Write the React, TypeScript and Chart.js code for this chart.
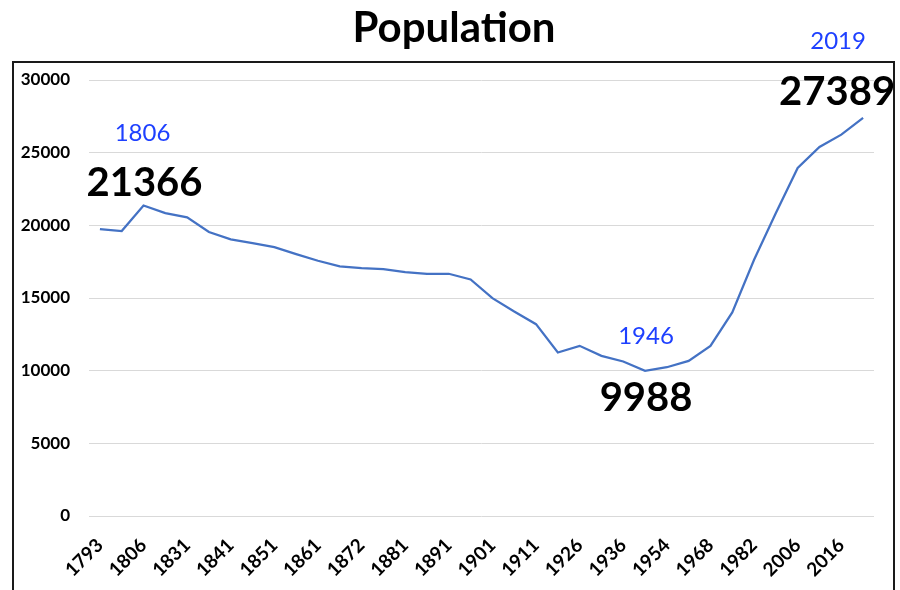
import React, { useEffect, useRef } from 'react';
import { Chart, registerables } from 'chart.js';

Chart.register(...registerables);

const years = ['1793', '1800', '1806', '1821', '1831', '1836', '1841', '1846', '1851', '1856', '1861', '1866', '1872', '1876', '1881', '1886', '1891', '1896', '1901', '1906', '1911', '1921', '1926', '1931', '1936', '1946', '1954', '1962', '1968', '1975', '1982', '1990', '2006', '2011', '2016', '2019'];
const population = [19745, 19607, 21366, 20846, 20545, 19538, 19030, 18780, 18505, 18023, 17562, 17170, 17057, 16989, 16783, 16667, 16667, 16275, 14990, 14070, 13200, 11250, 11708, 11019, 10630, 9988, 10238, 10675, 11708, 14003, 17630, 20846, 23946, 25390, 26240, 27389];
const yMin = 0;
const yMax = 30000;
const yStep = 5000;
const titleText = 'Population';
const highlightIndices = [2, 25, 35];

const FONT = 'Lato, "Open Sans", sans-serif';

// placement styles for the highlighted points (offsets in px relative to the point)
const highlightStyles = [
  { valueDx: 1, valueDy: -22, yearDx: -1, yearDy: -72 },
  { valueDx: 1, valueDy: 27, yearDx: 1, yearDy: -35 },
  { valueDx: -26, valueDy: -26, yearDx: -25, yearDy: -77 },
];

const decorPlugin = {
  id: 'decor',
  afterDraw(chart: any) {
    const ctx = chart.ctx;
    const xs = chart.scales.x;
    const ys = chart.scales.y;
    ctx.save();
    // frame
    ctx.strokeStyle = '#1a1a1a';
    ctx.lineWidth = 2;
    ctx.strokeRect(13, 62, 881, 600);
    // title
    ctx.fillStyle = '#000';
    ctx.font = `bold 42px ${FONT}`;
    ctx.textAlign = 'center';
    ctx.textBaseline = 'middle';
    ctx.fillText(titleText, 454, 28);
    // highlight labels
    highlightIndices.forEach((idx, k) => {
      const st = highlightStyles[k];
      const px = xs.getPixelForValue(idx);
      const py = ys.getPixelForValue(population[idx]);
      ctx.fillStyle = '#000';
      ctx.font = `bold 40px ${FONT}`;
      ctx.fillText(String(population[idx]), px + st.valueDx, py + st.valueDy);
      ctx.fillStyle = '#1e40ff';
      ctx.font = `24px ${FONT}`;
      ctx.fillText(years[idx], px + st.yearDx, py + st.yearDy);
    });
    ctx.restore();
  },
};

export default function App() {
  const ref = useRef<HTMLCanvasElement>(null);
  useEffect(() => {
    if (!ref.current) return;
    const chart = new Chart(ref.current, {
      type: 'line',
      data: {
        labels: years,
        datasets: [
          {
            data: population,
            borderColor: '#4472c4',
            borderWidth: 2.25,
            pointRadius: 0,
            tension: 0,
            fill: false,
          },
        ],
      },
      options: {
        animation: false,
        responsive: false,
        layout: { padding: { top: 80, right: 26, left: 0, bottom: 0 } },
        plugins: {
          legend: { display: false },
          title: { display: false },
          tooltip: { enabled: false },
        },
        scales: {
          x: {
            type: 'category',
            offset: true,
            grid: { display: false, drawTicks: false },
            border: { display: false },
            afterFit: (s: any) => {
              s.height = 74;
            },
            ticks: {
              autoSkip: false,
              minRotation: 45,
              maxRotation: 45,
              padding: 18,
              color: '#000',
              font: { family: FONT, size: 19, weight: 'bold' },
              callback: (_v: any, i: number) => (i % 2 === 0 ? years[i] : ''),
            },
          },
          y: {
            min: yMin,
            max: yMax,
            afterFit: (s: any) => {
              s.width = 89;
            },
            grid: { color: '#d9d9d9', lineWidth: 1, drawTicks: false },
            border: { display: false },
            ticks: {
              stepSize: yStep,
              padding: 19,
              color: '#000',
              font: { family: FONT, size: 17, weight: 'bold' },
              callback: (v: any) => String(v),
            },
          },
        },
      },
      plugins: [decorPlugin],
    });
    return () => chart.destroy();
  }, []);
  return (
    <div style={{ position: 'fixed', left: 0, top: 0, width: 900, height: 590, background: '#fff' }}>
      <canvas ref={ref} width={900} height={590} style={{ width: 900, height: 590, display: 'block' }} />
    </div>
  );
}
